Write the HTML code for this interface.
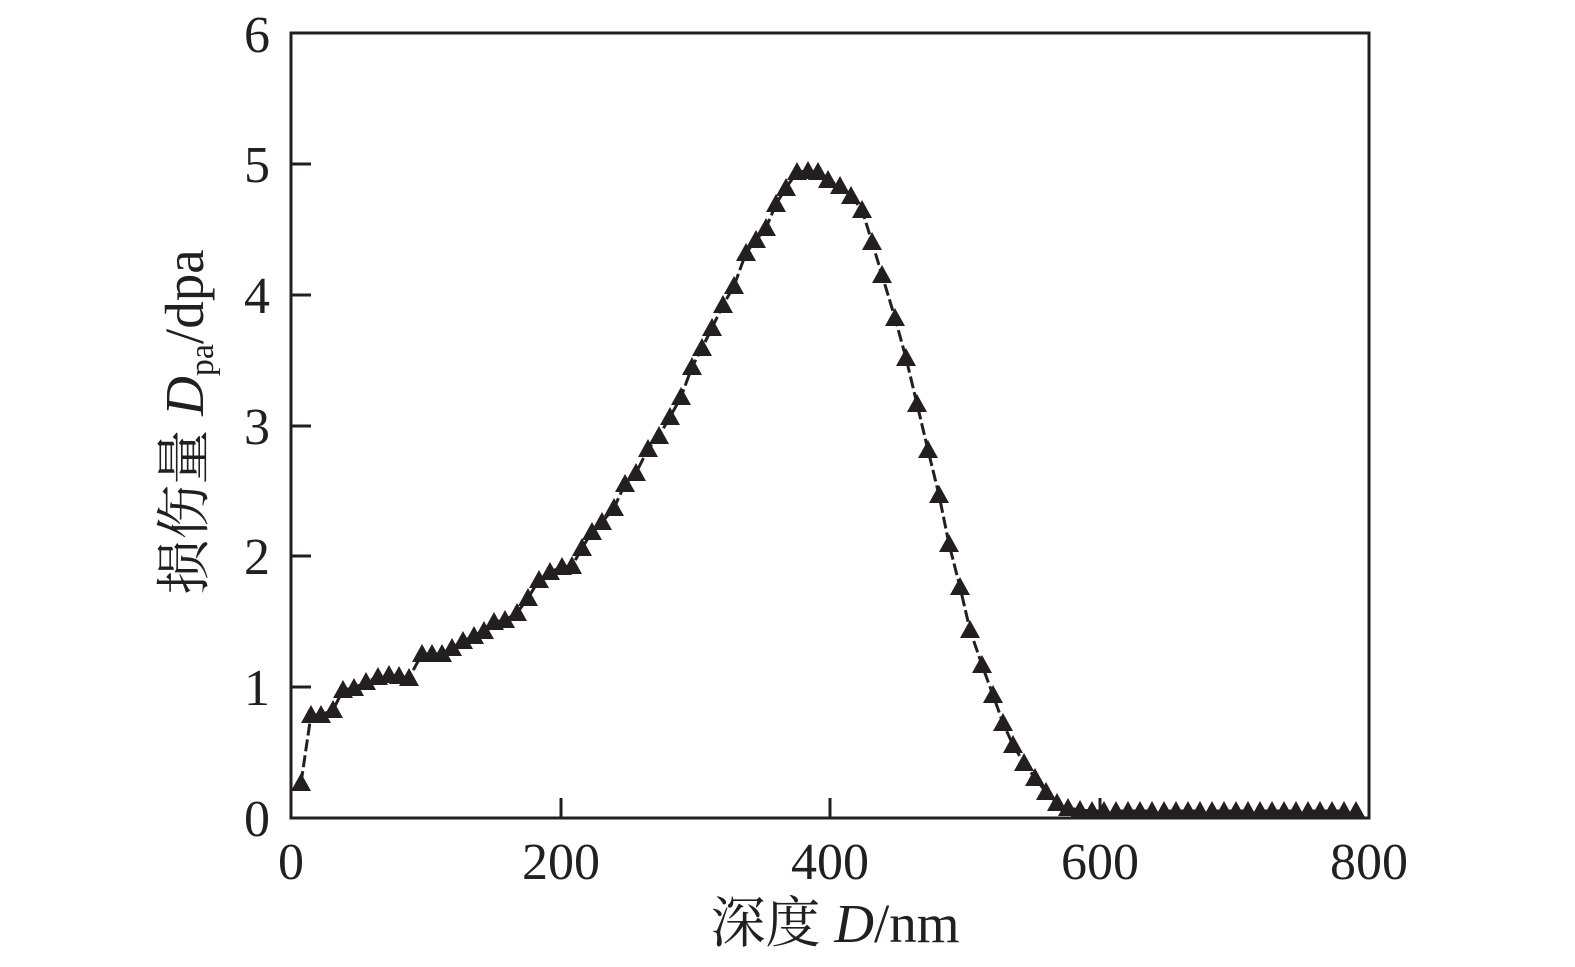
<!DOCTYPE html>
<html><head><meta charset="utf-8"><style>
html,body{margin:0;padding:0;background:#fff;}
svg{display:block;}
text{font-family:"Liberation Serif","Noto Serif CJK SC",serif;fill:#231f20;}
</style></head><body>
<svg id="s" width="1575" height="967" viewBox="0 0 1575 967" xmlns="http://www.w3.org/2000/svg">
<g stroke="#231f20" stroke-width="3" fill="none">
<rect x="291" y="33" width="1078" height="785"/>
<line x1="291" y1="687" x2="311" y2="687"/><line x1="291" y1="556" x2="311" y2="556"/>
<line x1="291" y1="426" x2="311" y2="426"/><line x1="291" y1="295" x2="311" y2="295"/>
<line x1="291" y1="164" x2="311" y2="164"/>
<line x1="561" y1="818" x2="561" y2="798"/><line x1="830" y1="818" x2="830" y2="798"/>
<line x1="1100" y1="818" x2="1100" y2="798"/>
</g>
<g font-size="52" text-anchor="end">
<text x="270" y="836">0</text><text x="270" y="705">1</text><text x="270" y="574">2</text>
<text x="270" y="444">3</text><text x="270" y="313">4</text><text x="270" y="182">5</text><text x="270" y="52">6</text>
</g>
<g font-size="52" text-anchor="middle">
<text x="291" y="879">0</text><text x="561" y="879">200</text><text x="830" y="879">400</text>
<text x="1100" y="879">600</text><text x="1369" y="879">800</text>
</g>
<text x="835" y="942" font-size="55" text-anchor="middle">深度 <tspan font-style="italic">D</tspan>/nm</text>
<text transform="translate(203,422) rotate(-90)" font-size="55" text-anchor="middle">损伤量 <tspan font-style="italic">D</tspan><tspan font-size="34" dy="10">pa</tspan><tspan dy="-10">/dpa</tspan></text>
<g id="d"></g>
</svg>
<script>
var p=[[301,783],[311,715],[321,715],[333,710],[343,690],[354,688],[366,682],[378,677],[389,675],[399,676],[409,678],[422,654],[432,654],[442,654],[452,648],[463,641],[474,636],[484,631],[494,622],[505,620],[517,613],[528,598],[539,580],[550,572],[562,567],[572,566],[582,548],[592,532],[602,522],[614,508],[625,484],[636,473],[648,449],[659,436],[670,417],[681,397],[692,367],[702,348],[712,328],[723,305],[734,286],[746,253],[756,240],[766,228],[776,204],[786,188],[797,172],[808,171],[818,172],[828,180],[840,186],[851,196],[862,210],[872,242],[882,275],[895,318],[906,358],[917,404],[928,450],[939,495],[949,544],[960,587],[970,630],[982,665],[993,695],[1003,723],[1013,745],[1024,763],[1035,778],[1046,792],[1057,803],[1068,808],[1080,810]];
for(var x=1092;x<=1362;x+=12)p.push([x,811]);
var g=document.getElementById('d'),ns="http://www.w3.org/2000/svg";
var pl=document.createElementNS(ns,'polyline');
pl.setAttribute('points',p.map(function(a){return a[0]+','+a[1]}).join(' '));
pl.setAttribute('fill','none');pl.setAttribute('stroke','#231f20');pl.setAttribute('stroke-width','3');pl.setAttribute('stroke-dasharray','12,4');
g.appendChild(pl);
p.forEach(function(a){var t=document.createElementNS(ns,'polygon');var x=a[0],y=a[1];
t.setAttribute('points',(x-10)+','+(y+8)+' '+(x+10)+','+(y+8)+' '+x+','+(y-10));
t.setAttribute('fill','#231f20');g.appendChild(t);});
</script>
</body></html>
